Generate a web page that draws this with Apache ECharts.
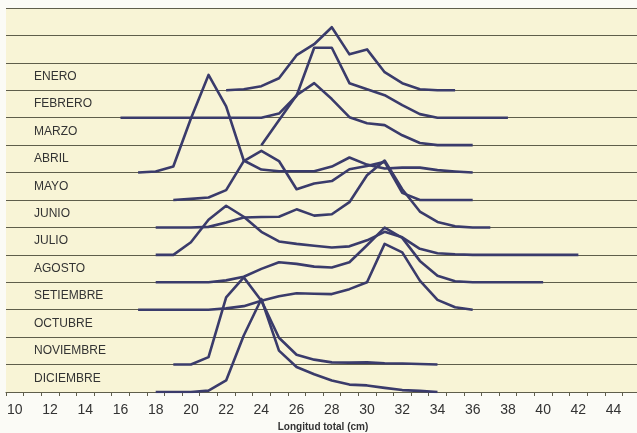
<!DOCTYPE html>
<html>
<head>
<meta charset="utf-8">
<title>Longitud total por mes</title>
<script src="https://cdn.jsdelivr.net/npm/echarts@6.0.0/dist/echarts.min.js"></script>
<style>
html, body { margin: 0; padding: 0; background: #fbfbf6; }
#chart { width: 637px; height: 433px; }
</style>
</head>
<body>
<div id="chart"></div>
<script>
// eje x: longitud total (cm), una categoria por cm
var tallas = ['10','11','12','13','14','15','16','17','18','19','20','21','22','23','24','25','26','27',
              '28','29','30','31','32','33','34','35','36','37','38','39','40','41','42','43','44','45'];

// filas del grafico, de arriba hacia abajo (las dos primeras quedan vacias)
var filas = ['', '', 'ENERO', 'FEBRERO', 'MARZO', 'ABRIL', 'MAYO', 'JUNIO', 'JULIO',
             'AGOSTO', 'SETIEMBRE', 'OCTUBRE', 'NOVIEMBRE', 'DICIEMBRE'];

// frecuencia (%) por talla, desde la talla inicial de cada mes
var enero      = [0, 0.4, 1.5, 4.4, 12.8, 16.8, 23.0, 13.1, 14.9, 6.6, 2.6, 0.4, 0, 0];
var febrero    = [0, 0, 0, 0, 0, 0, 0, 0, 0, 1.5, 8.0, 25.5, 25.5, 12.6, 10.4, 8.2, 4.6, 1.3, 0, 0, 0, 0, 0];
var marzo      = [0, 9.1, 18.2, 22.6, 16.8, 10.2, 8.0, 7.3, 3.6, 0.8, 0, 0, 0];
var abril      = [0, 0.4, 2.2, 19.7, 35.6, 24.1, 4.4, 1.1, 0.5, 0.5, 0.5, 2.2, 5.5, 2.9, 1.5, 1.8, 1.8, 0.9, 0.4, 0];
var mayo       = [0, 0.4, 0.9, 3.6, 14.2, 17.9, 14.2, 3.9, 6.0, 6.9, 11.2, 12.4, 13.9, 2.6, 0, 0, 0, 0];
var junio      = [0, 0, 0, 0.2, 1.8, 3.6, 3.8, 3.9, 6.6, 4.3, 4.8, 9.2, 19.0, 24.4, 13.9, 5.8, 2.0, 0.4, 0, 0];
var julio      = [0, 0, 4.6, 12.8, 17.9, 13.9, 8.4, 4.9, 4.0, 3.3, 2.7, 3.1, 5.3, 8.4, 6.4, 2.2, 0.6, 0.2, 0, 0, 0, 0, 0, 0, 0];
var agosto     = [0, 0, 0, 0, 0.7, 2.0, 4.9, 7.3, 6.7, 5.7, 5.4, 7.3, 13.5, 19.9, 16.2, 7.8, 2.4, 0.4, 0, 0, 0, 0, 0];
var setiembre  = [0, 0, 0, 0, 0, 0.5, 1.3, 3.3, 4.9, 6.0, 5.8, 5.7, 7.5, 10.0, 24.0, 20.9, 10.6, 3.6, 0.9, 0];
var octubre    = [];
var noviembre  = [0, 0, 2.7, 24.5, 31.8, 23.3, 9.8, 3.6, 1.8, 0.8, 0.7, 0.8, 0.5, 0.4, 0.2, 0];
var diciembre  = [0, 0, 0, 0.5, 4.2, 20.6, 33.9, 15.1, 9.1, 6.5, 4.2, 2.7, 2.4, 1.5, 0.7, 0.4, 0];

// talla (cm) donde empieza cada poligono
var inicios = [22, 16, 24, 17, 19, 18, 18, 18, 17, null, 19, 18];

var meses = [enero, febrero, marzo, abril, mayo, junio, julio, agosto, setiembre, octubre, noviembre, diciembre];

var lineColor = '#3a3b6b',
    gridColor = '#5f5e4b',
    textColor = '#333333';

function buildSeries(){
	var series = [];
	for(var i = 0; i < meses.length; i++){
		var freq = meses[i];
		if(!freq.length) continue;
		// cada mes se apoya en la linea inferior de su fila (10 % por fila)
		var base = (11 - i) * 10;
		var data = [];
		for(var k = 0; k < tallas.length; k++) data.push(null);
		var first = tallas.indexOf(String(inicios[i]));
		for(var j = 0; j < freq.length; j++){
			data[first + j] = +(base + freq[j]).toFixed(2);
		}
		series.push({
			name: filas[i + 2],
			type: 'line',
			yAxisIndex: 0,
			data: data,
			symbol: 'none',
			smooth: false,
			connectNulls: false,
			animation: false,
			lineStyle: { color: lineColor, width: 2.6, join: 'round' }
		});
	}
	return series;
}

var chart = echarts.init(document.getElementById('chart'), null, { renderer: 'canvas' });

var option = {
	backgroundColor: '#fbfbf6',
	textStyle: { fontFamily: 'Liberation Sans, Arial, sans-serif' },
	grid: {
		left: 6,
		right: -3,
		top: 8,
		bottom: 41,
		outerBoundsMode: 'none',
		containLabel: false,
		show: true,
		backgroundColor: '#f8f4d6',
		borderWidth: 0
	},
	xAxis: {
		type: 'category',
		data: tallas,
		boundaryGap: true,
		name: 'Longitud total (cm)',
		nameLocation: 'middle',
		nameGap: 30,
		nameTextStyle: { fontSize: 10, fontWeight: 'bold', color: textColor },
		axisLine: { show: true, lineStyle: { color: gridColor, width: 1.2 } },
		axisTick: { show: true, interval: 0, length: 4, lineStyle: { color: gridColor } },
		axisLabel: { interval: 1, fontSize: 14, color: textColor, margin: 11 },
		splitLine: { show: false }
	},
	yAxis: [{
		type: 'value',
		min: 0,
		max: 140,
		interval: 10,
		axisLine: { show: false },
		axisTick: { show: false },
		axisLabel: { show: false },
		splitLine: { show: true, lineStyle: { color: gridColor, width: 1.2 } }
	}, {
		type: 'category',
		data: filas,
		inverse: true,
		position: 'left',
		boundaryGap: true,
		axisLine: { show: false },
		axisTick: { show: false },
		splitLine: { show: false },
		axisLabel: { inside: true, margin: 28, fontSize: 12, color: textColor }
	}],
	series: buildSeries()
};

chart.setOption(option);
</script>
</body>
</html>
